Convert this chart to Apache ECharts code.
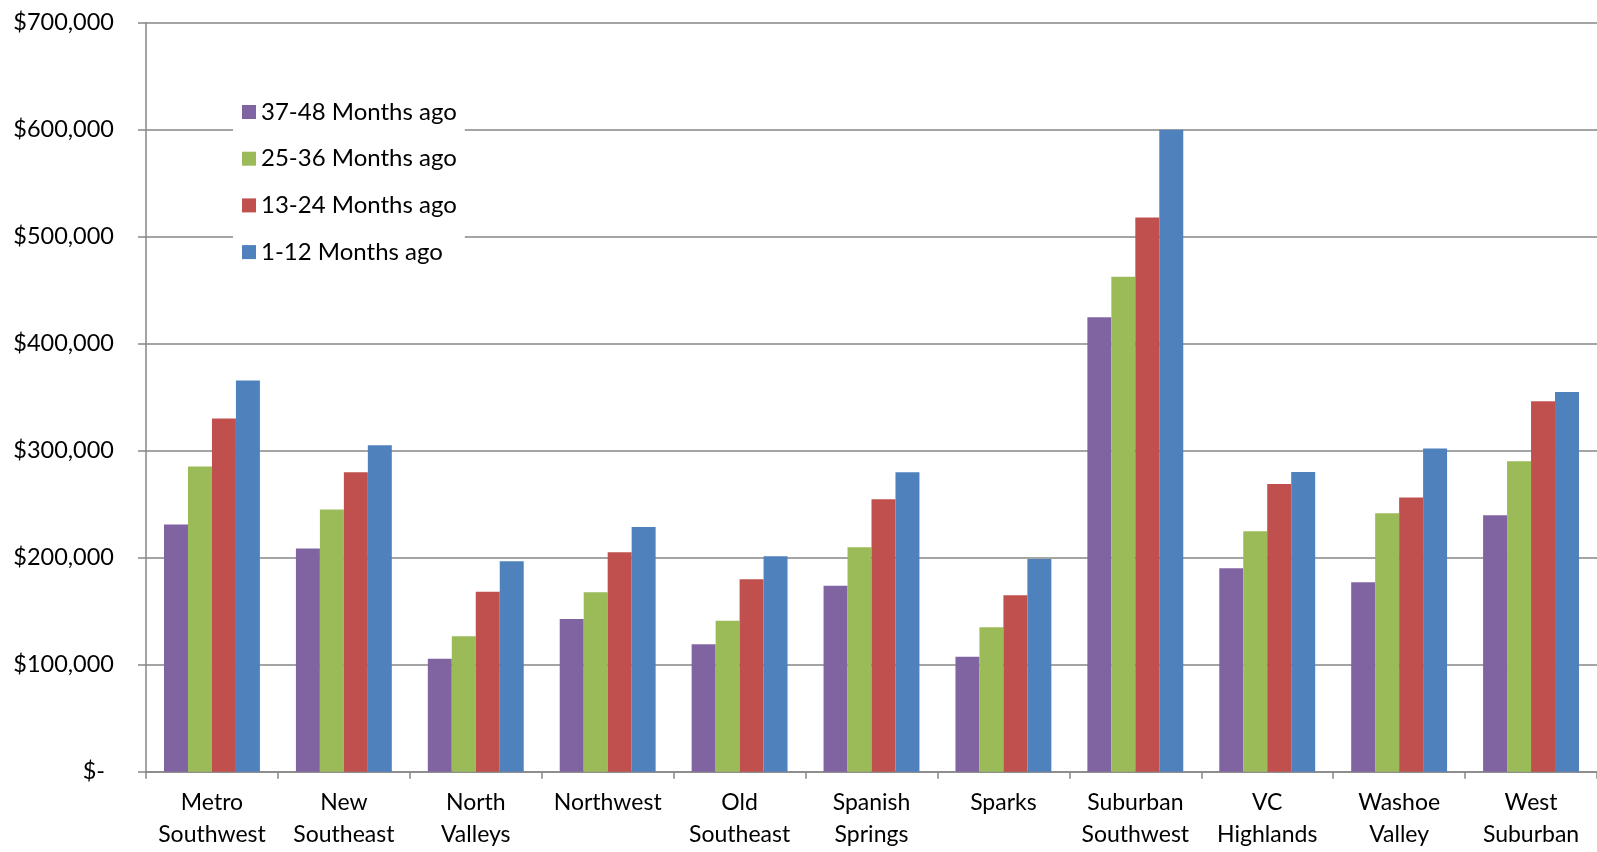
<!DOCTYPE html>
<html>
<head>
<meta charset="utf-8">
<script src="https://cdn.jsdelivr.net/npm/echarts@6/dist/echarts.min.js"></script>
<style>
html,body{margin:0;padding:0;background:#fff;}
#chart{width:1597px;height:852px;}
</style>
</head>
<body>
<div id="chart"></div>
<script>
const categories = ['Metro\nSouthwest','New\nSoutheast','North\nValleys','Northwest','Old\nSoutheast','Spanish\nSprings','Sparks','Suburban\nSouthwest','VC\nHighlands','Washoe\nValley','West\nSuburban'];
const seriesNames = ['37-48 Months ago','25-36 Months ago','13-24 Months ago','1-12 Months ago'];
const months37to48 = [231000,208600,105500,142600,119200,173700,107400,424800,190200,177100,239700];
const months25to36 = [285200,245000,126700,167800,141000,209800,135100,462600,224700,241500,290100];
const months13to24 = [330000,279800,168100,205100,179900,254600,165000,517900,268900,256200,346100];
const months1to12  = [365700,305000,196700,228800,201400,279800,198900,600000,280100,302000,354800];
const yTicks = [0,100000,200000,300000,400000,500000,600000,700000];
const colors = ['#8064A2','#9BBB59','#C0504D','#4F81BD'];

const FONT = 'Lato';
const allData = [months37to48, months25to36, months13to24, months1to12];

const chart = echarts.init(document.getElementById('chart'));
chart.setOption({
  animation:false,
  backgroundColor:'#fff',
  textStyle:{fontFamily:FONT},
  grid:{left:146, right:-8, top:22.7, bottom:80.3, containLabel:false},
  legend:{
    orient:'vertical', left:233, top:92,
    padding:[7,8,7,9],
    backgroundColor:'#fff',
    itemWidth:14, itemHeight:14, itemGap:20.7,
    icon:'rect',
    textStyle:{fontFamily:FONT, fontSize:24, color:'#000', lineHeight:26},
    data:seriesNames
  },
  xAxis:{
    type:'category', data:categories,
    axisLine:{lineStyle:{color:'#868686', width:1.5}},
    axisTick:{show:true, length:7, lineStyle:{color:'#868686', width:1.5}},
    axisLabel:{fontFamily:FONT, fontSize:23, color:'#000', lineHeight:32, margin:15, interval:0}
  },
  yAxis:{
    type:'value', min:yTicks[0], max:yTicks[yTicks.length-1], interval:100000,
    axisLine:{show:true, lineStyle:{color:'#868686', width:1.5}},
    axisTick:{show:true, length:8, lineStyle:{color:'#868686', width:1.5}},
    splitLine:{lineStyle:{color:'#868686', width:1.5}},
    axisLabel:{
      fontFamily:FONT, fontSize:23.5, color:'#000', margin:32,
      formatter:function(v){
        if(v===0) return '{z|$-}';
        return '$' + v.toLocaleString('en-US');
      },
      rich:{z:{fontFamily:FONT, fontSize:23.5, color:'#000', padding:[0,9,0,0]}}
    }
  },
  series: seriesNames.map(function(name,i){
    return {
      name:name, type:'bar', data:allData[i],
      barGap:'0%', barCategoryGap:'27.3%',
      itemStyle:{color:colors[i]}
    };
  })
});
</script>
</body>
</html>
